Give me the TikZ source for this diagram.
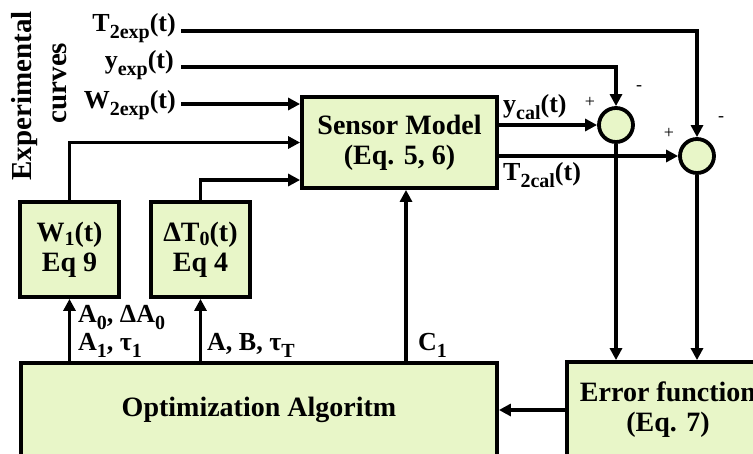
\documentclass[tikz,border=0pt]{standalone}
\usepackage{fontspec}
\setmainfont{Liberation Serif}
\usetikzlibrary{arrows.meta,calc}
\definecolor{boxfill}{RGB}{232,246,200}
\newcommand\sbs[1]{\raisebox{-7pt}{\fontsize{20}{20}\selectfont #1}}
\newcommand\bsb[1]{\raisebox{-4pt}[0pt][0pt]{\fontsize{20}{20}\selectfont #1}}
\tikzset{
  blk/.style={draw=black, line width=3.8pt, fill=boxfill, align=center, inner sep=0pt,
    font=\fontsize{28}{30}\selectfont\bfseries},
  sumc/.style={circle, draw=black, line width=3.8pt, fill=boxfill, minimum size=34pt, inner sep=0pt},
  lab/.style={inner sep=0pt, font=\fontsize{26}{28}\selectfont\bfseries},
  sgn/.style={inner sep=0pt, font=\fontsize{18}{18}\selectfont},
  arr/.style={line width=3.8pt, -{Triangle[length=12pt,width=12pt]}},
  ln/.style={line width=3.8pt}
}
\begin{document}
\begin{tikzpicture}[x=1pt,y=-1pt]
\useasboundingbox (0,0) rectangle (753,453);
\clip (0,0) rectangle (753,453);
% blocks
\node[blk, minimum width=195pt, minimum height=91pt] (sensor) at (399.5,142.5) {Sensor Model\\(Eq. 5, 6)};
\node[blk, minimum width=99pt, minimum height=95pt] (w1box) at (69.5,249.5) {W\bsb{1}(t)\\Eq 9};
\node[blk, minimum width=99pt, minimum height=95pt] (dtbox) at (200.5,249.5) {ΔT\bsb{0}(t)\\Eq 4};
\node[blk, minimum width=476pt, minimum height=94pt] (opt) at (259,410) {Optimization Algoritm};
\node[blk, minimum width=202pt, minimum height=96pt] (err) at (668,410) {Error function\\(Eq. 7)};
\node[sumc] (c1) at (616,125) {};
\node[sumc] (c2) at (697,156) {};
% side text
\node[rotate=90, inner sep=0pt, font=\fontsize{29}{30}\selectfont\bfseries] (exp1) at (25,96) {Experimental};
\node[rotate=90, inner sep=0pt, font=\fontsize{29}{30}\selectfont\bfseries] (exp2) at (60,83) {curves};
% input labels
\node[lab, anchor=base east] (t2lab) at (176,31) {T\sbs{2exp}(t)};
\node[lab, anchor=base east] (ylab) at (174,68) {y\sbs{exp}(t)};
\node[lab, anchor=base east] (w2lab) at (176,108) {W\sbs{2exp}(t)};
\coordinate (t2s) at (181,31);
\coordinate (ys) at (181,67);
\coordinate (w2s) at (181,104);
% connectors
\draw[arr] (t2s) -| (c2.north);
\draw[arr] (ys) -| (c1.north);
\draw[arr] (w2s) -- (w2s -| sensor.west);
\draw[arr] (w1box.north) |- (sensor.west);
\draw[arr] (dtbox.north) |- ($(sensor.west)+(0,37.5)$);
\draw[arr] (sensor.east |- c1.west) -- (c1.west);
\draw[arr] (sensor.east |- c2.west) -- (c2.west);
\draw[arr] (c1.south) -- (c1.south |- err.north);
\draw[arr] (c2.south) -- (c2.south |- err.north);
\draw[arr] (err.west) -- (opt.east |- err.west);
\draw[arr] (w1box.south |- opt.north) -- (w1box.south);
\draw[arr] (dtbox.south |- opt.north) -- (dtbox.south);
\coordinate (cin) at ($(sensor.south)+(6.5,0)$);
\draw[arr] (cin |- opt.north) -- (cin);
% edge labels
\node[lab, anchor=base west] (l1) at (78,322) {A\sbs{0}, ΔA\sbs{0}};
\node[lab, anchor=base west] (l2) at (78,350) {A\sbs{1}, τ\sbs{1}};
\node[lab, anchor=base west] (l3) at (207,350) {A, B, τ\sbs{T}};
\node[lab, anchor=base west] (l4) at (418,350) {C\sbs{1}};
\node[lab, anchor=base west] (ycal) at (503,112) {y\sbs{cal}(t)};
\node[lab, anchor=base west] (t2cal) at (503,180) {T\sbs{2cal}(t)};
% signs
\node[sgn] (p1) at (590,102) {+};
\node[sgn] (m1) at (639,88) {-};
\node[sgn] (p2) at (669,133) {+};
\node[sgn] (m2) at (721,119) {-};
\end{tikzpicture}
\end{document}
